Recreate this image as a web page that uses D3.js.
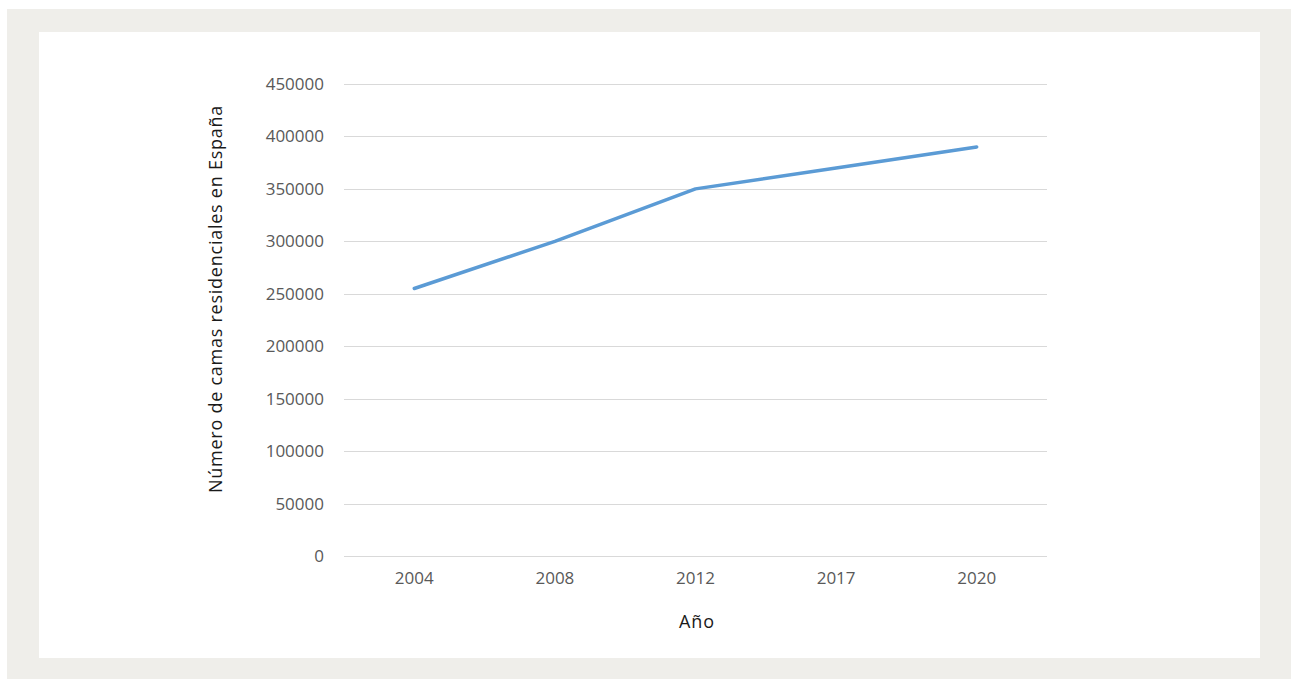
<!DOCTYPE html>
<html>
<head>
<meta charset="utf-8">
<script src="https://cdn.jsdelivr.net/npm/d3@7"></script>
<style>
  html, body { margin: 0; padding: 0; background: #ffffff; }
  svg { display: block; }
  text { font-family: "Open Sans", "Liberation Sans", sans-serif; fill: #595959; }
</style>
</head>
<body>
<svg id="chart" width="1291" height="679"></svg>
<script>
// Residential beds in Spain by year
const years = ["2004", "2008", "2012", "2017", "2020"];
const beds = [255000, 300000, 350000, 370000, 390000];
const yTicks = [0, 50000, 100000, 150000, 200000, 250000, 300000, 350000, 400000, 450000];
const xTitle = "Año";
const yTitle = "Número de camas residenciales en España";

const svg = d3.select("#chart");

// framed card
svg.append("rect").attr("x", 7).attr("y", 9).attr("width", 1284).attr("height", 670).attr("fill", "#efeeea");
svg.append("rect").attr("x", 39).attr("y", 32).attr("width", 1221).attr("height", 626).attr("fill", "#ffffff");

const plot = { left: 344, right: 1047, top: 84, bottom: 556 };

const x = d3.scaleBand().domain(years).range([plot.left, plot.right]);
const y = d3.scaleLinear().domain([0, 450000]).range([plot.bottom, plot.top]);

// horizontal gridlines
svg.append("g")
  .selectAll("line")
  .data(yTicks)
  .join("line")
  .attr("x1", plot.left).attr("x2", plot.right)
  .attr("y1", d => Math.round(y(d)) + 0.5).attr("y2", d => Math.round(y(d)) + 0.5)
  .attr("stroke", "#d9d9d9").attr("stroke-width", 1);

// y axis labels
const yAxis = svg.append("g")
  .attr("transform", `translate(${plot.left - 20},0)`)
  .call(d3.axisLeft(y).tickValues(yTicks).tickFormat(d => String(d)).tickSize(0).tickPadding(0));
yAxis.select(".domain").remove();
yAxis.selectAll("text").attr("font-size", 17).style("fill", "#595959");

// x axis labels
const xAxis = svg.append("g")
  .attr("transform", `translate(0,${plot.bottom + 15})`)
  .call(d3.axisBottom(x).tickSize(0).tickPadding(0));
xAxis.select(".domain").remove();
xAxis.selectAll("text").attr("font-size", 17).attr("dy", "0.75em").style("fill", "#595959");

// axis titles
svg.append("text")
  .attr("x", 697).attr("y", 628)
  .attr("text-anchor", "middle").attr("font-size", 18)
  .style("letter-spacing", "1px")
  .style("fill", "#1a1a1a")
  .text(xTitle);

svg.append("text")
  .attr("transform", `translate(222,299) rotate(-90)`)
  .attr("text-anchor", "middle").attr("font-size", 18)
  .style("letter-spacing", "0.75px")
  .style("fill", "#1a1a1a")
  .text(yTitle);

// series line
const line = d3.line()
  .x((d, i) => x(years[i]) + x.bandwidth() / 2)
  .y(d => y(d));

svg.append("path")
  .datum(beds)
  .attr("d", line)
  .attr("fill", "none")
  .attr("stroke", "#5b9bd5")
  .attr("stroke-width", 3.5)
  .attr("stroke-linecap", "round")
  .attr("stroke-linejoin", "round");
</script>
</body>
</html>
